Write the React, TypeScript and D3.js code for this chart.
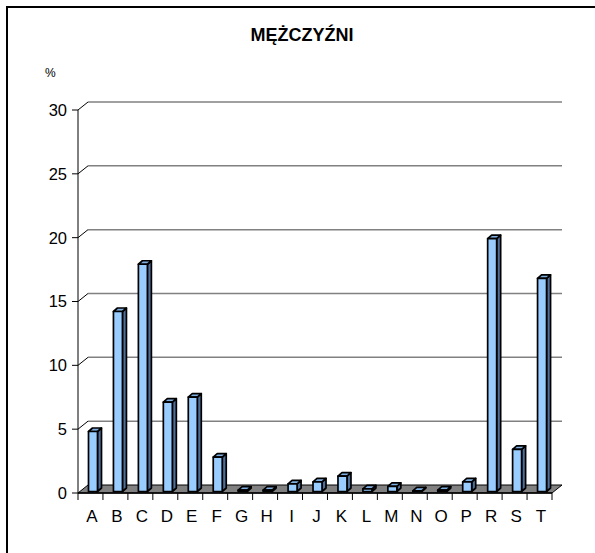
import React from "react";
import * as d3 from "d3";

const categories = ["A","B","C","D","E","F","G","H","I","J","K","L","M","N","O","P","R","S","T"];
const values = [4.7,14.1,17.8,7.0,7.4,2.7,0.1,0.1,0.6,0.75,1.2,0.2,0.4,0.05,0.1,0.75,19.8,3.3,16.7];
const yTicks = [0,5,10,15,20,25,30];
const title = "MĘŻCZYŹNI";
const unit = "%";

const W = 595, H = 553;
const X0 = 78, X1 = 552, YB = 493, YT = 110;
const DX = 10, DY = -8; // wall depth
const BDX = 4, BDY = -3.5; // bar depth

export default function App() {
  const x = d3.scaleBand<string>().domain(categories).range([X0, X1]).paddingInner(0).paddingOuter(0);
  const y = d3.scaleLinear().domain([0, 30]).range([YB, YT]);
  const font = "'Liberation Sans', Arial, sans-serif";
  const barW = 9;
  const barOff = 10.5;
  const barBottom = YB - 1.5;

  return (
    <svg width={W} height={H} style={{ position: "absolute", left: 0, top: 0, background: "#fff" }}>
      <rect x={7} y={7} width={700} height={700} fill="#fff" stroke="#000" strokeWidth={2} />
      <text x={302} y={41} textAnchor="middle" fontFamily={font} fontWeight="bold" fontSize={18}>{title}</text>
      <text x={45} y={77} fontFamily={font} fontSize={12}>{unit}</text>
      {/* back wall gridlines */}
      {yTicks.filter(t => t > 0).map(t => (
        <g key={t}>
          <line x1={X0 + DX} x2={X1 + DX} y1={y(t) + DY} y2={y(t) + DY} stroke="#808080" strokeWidth={1.5} />
          <line x1={X0} x2={X0 + DX} y1={y(t)} y2={y(t) + DY} stroke="#000" strokeWidth={1} />
        </g>
      ))}
      {/* y axis */}
      <line x1={X0} x2={X0} y1={YT} y2={YB} stroke="#000" strokeWidth={1} />
      {yTicks.map(t => (
        <g key={"yt" + t}>
          <line x1={X0 - 6} x2={X0} y1={y(t)} y2={y(t)} stroke="#000" strokeWidth={1} />
          <text x={67} y={y(t)} dy="0.36em" textAnchor="end" fontFamily={font} fontSize={16.5}>{t}</text>
        </g>
      ))}
      {/* floor */}
      <polygon
        points={`${X0},${YB} ${X1},${YB} ${X1 + DX},${YB + DY} ${X0 + DX},${YB + DY}`}
        fill="#808080" stroke="#000" strokeWidth={1} />
      <line x1={X0} x2={X1} y1={YB} y2={YB} stroke="#000" strokeWidth={1.5} />
      {/* bars */}
      {categories.map((c, i) => {
        const x0 = (x(c) as number) + barOff;
        const x1 = x0 + barW;
        const top = barBottom - (y(0) - y(values[i]));
        return (
          <g key={c} stroke="#000" strokeWidth={1.7} strokeLinejoin="round">
            <polygon points={`${x1},${barBottom} ${x1 + BDX},${barBottom + BDY} ${x1 + BDX},${top + BDY} ${x1},${top}`} fill="#4F6F99" />
            <polygon points={`${x0},${top} ${x0 + BDX},${top + BDY} ${x1 + BDX},${top + BDY} ${x1},${top}`} fill="#7FAEE0" />
            <rect x={x0} y={top} width={barW} height={barBottom - top} fill="#99CCFF" />
          </g>
        );
      })}
      {/* x ticks and labels */}
      {categories.map(c => (
        <line key={"xt" + c} x1={x(c) as number} x2={x(c) as number} y1={YB} y2={YB + 7} stroke="#000" strokeWidth={1} />
      ))}
      <line x1={X1} x2={X1} y1={YB} y2={YB + 7} stroke="#000" strokeWidth={1} />
      {categories.map(c => (
        <text key={"xl" + c} x={(x(c) as number) + x.bandwidth() / 2 + 1.5} y={522} textAnchor="middle" fontFamily={font} fontSize={17}>{c}</text>
      ))}
    </svg>
  );
}
